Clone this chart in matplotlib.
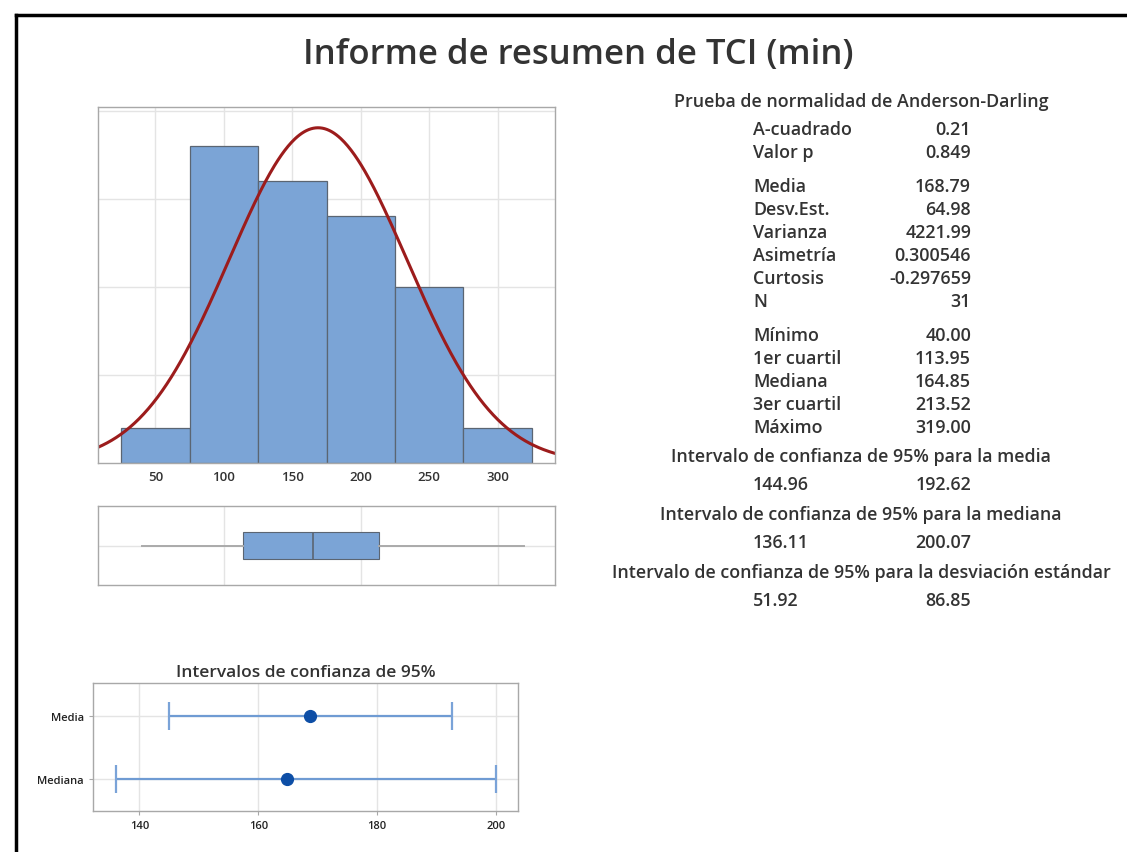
import numpy as np
import matplotlib.pyplot as plt
from matplotlib.lines import Line2D

plt.rcParams['font.family'] = ['Open Sans', 'DejaVu Sans']

# histogram of TCI (min)
bin_edges = [25, 75, 125, 175, 225, 275, 325]
bin_counts = [1, 9, 8, 7, 5, 1]

# summary stats
media = 168.79
desv = 64.98
n_obs = 31
minimo, q1, mediana, q3, maximo = 40.00, 113.95, 164.85, 213.52, 319.00

ad_labels = ['A-cuadrado', 'Valor p']
ad_values = ['0.21', '0.849']
mom_labels = ['Media', 'Desv.Est.', 'Varianza', 'Asimetría', 'Curtosis', 'N']
mom_values = ['168.79', '64.98', '4221.99', '0.300546', '-0.297659', '31']
q_labels = ['Mínimo', '1er cuartil', 'Mediana', '3er cuartil', 'Máximo']
q_values = ['40.00', '113.95', '164.85', '213.52', '319.00']

ci_titles = ['Intervalo de confianza de 95% para la media',
             'Intervalo de confianza de 95% para la mediana',
             'Intervalo de confianza de 95% para la desviación estándar']
ci_low = [144.96, 136.11, 51.92]
ci_high = [192.62, 200.07, 86.85]

ci_names = ['Media', 'Mediana']
ci_points = [media, mediana]

W, H = 1127, 853
BAR = '#7ba4d6'
EDGE = '#5b6572'
TXT = '#333333'
GRID = '#e4e4e4'
SPINE = '#a8a8a8'
SB = 'semibold'

fig = plt.figure(figsize=(W / 100, H / 100), dpi=100)


def fx(x):
    return x / W


def fy(y):
    return 1 - y / H


# frame lines (top and left only)
fig.add_artist(Line2D([fx(16), 1], [fy(15.5), fy(15.5)], color='black', lw=2.5))
fig.add_artist(Line2D([fx(15.5), fx(15.5)], [fy(15.5), 0], color='black', lw=2.5))

fig.text(fx(578), fy(55), 'Informe de resumen de TCI (min)', ha='center', va='center',
         fontsize=25, color=TXT, fontweight=SB)


def style(ax):
    for s in ax.spines.values():
        s.set_color(SPINE)
        s.set_linewidth(1)
    ax.set_axisbelow(True)


# histogram
ax = fig.add_axes([fx(98), fy(464), fx(555 - 98), (464 - 107.5) / H])
style(ax)
centers = [(a + b) / 2 for a, b in zip(bin_edges[:-1], bin_edges[1:])]
ax.bar(centers, bin_counts, width=50, color=BAR, edgecolor=EDGE, linewidth=0.9)
xs = np.linspace(8, 342, 400)
bw = bin_edges[1] - bin_edges[0]
ys = n_obs * bw / (desv * np.sqrt(2 * np.pi)) * np.exp(-0.5 * ((xs - media) / desv) ** 2)
ax.plot(xs, ys, color='#9c1c1c', lw=2.2)
ax.set_xlim(8, 342)
ax.set_ylim(0, 10.12)
ax.set_xticks([50, 100, 150, 200, 250, 300])
ax.set_yticks([2.5, 5, 7.5, 10])
ax.tick_params(axis='x', length=0, pad=5, labelsize=9.5, labelcolor=TXT)
for t in ax.get_xticklabels():
    t.set_fontweight(SB)
ax.tick_params(axis='y', length=0, labelleft=False)
ax.grid(True, color=GRID, lw=1)

# boxplot
axb = fig.add_axes([fx(98), fy(586), fx(555 - 98), (586 - 507) / H])
style(axb)
stats = [dict(med=mediana, q1=q1, q3=q3, whislo=minimo, whishi=maximo, fliers=[])]
axb.bxp(stats, positions=[1], widths=0.68, vert=False, showcaps=False,
        patch_artist=True,
        boxprops=dict(facecolor=BAR, edgecolor=EDGE, linewidth=0.8),
        medianprops=dict(color='#5b6572', linewidth=1.2),
        whiskerprops=dict(color='#aaaaaa', linewidth=1.4))
axb.set_xlim(8, 342)
axb.set_ylim(0, 2)
axb.set_xticks([100, 200, 300])
axb.set_yticks([1])
axb.tick_params(length=0, labelbottom=False, labelleft=False)
axb.grid(True, color=GRID, lw=1)

# confidence intervals plot
axc = fig.add_axes([fx(93), fy(812), fx(518 - 93), (812 - 684) / H])
style(axc)
ypos = [1, 0]
for y, lo, hi, p in zip(ypos, ci_low[:2], ci_high[:2], ci_points):
    axc.hlines(y, lo, hi, color='#6f9bd3', lw=1.6)
    axc.vlines([lo, hi], y - 0.22, y + 0.22, color='#7aa3d8', lw=1.6)
    axc.plot(p, y, 'o', color='#0d4ea6', markersize=8.5)
axc.set_xlim(132.2, 203.7)
axc.set_ylim(-0.5, 1.52)
axc.set_xticks([140, 160, 180, 200])
axc.set_yticks(ypos)
axc.set_yticklabels(ci_names)
axc.tick_params(labelsize=8, labelcolor='#222222', length=3, color=SPINE)
for t in axc.get_xticklabels() + axc.get_yticklabels():
    t.set_fontweight(SB)
axc.grid(True, color=GRID, lw=1)
axc.set_title('Intervalos de confianza de 95%', fontsize=12.5, color=TXT, pad=5,
              fontweight=SB)

# text panel
cx = fx(861)
lx = fx(753)
rx = fx(971)
fs = 12.9
fig.text(cx, fy(102), 'Prueba de normalidad de Anderson-Darling', ha='center', va='center',
         fontsize=fs, color=TXT, fontweight=SB)

y = 130
for group in [(ad_labels, ad_values), (mom_labels, mom_values), (q_labels, q_values)]:
    for lab, val in zip(*group):
        fig.text(lx, fy(y), lab, ha='left', va='center', fontsize=fs, color=TXT, fontweight=SB)
        fig.text(rx, fy(y), val, ha='right', va='center', fontsize=fs, color=TXT, fontweight=SB)
        y += 23
    y += 11

y = 457
for t, lo, hi in zip(ci_titles, ci_low, ci_high):
    fig.text(cx, fy(y), t, ha='center', va='center', fontsize=fs, color=TXT, fontweight=SB)
    fig.text(lx, fy(y + 28.5), f'{lo:.2f}', ha='left', va='center', fontsize=fs, color=TXT,
             fontweight=SB)
    fig.text(rx, fy(y + 28.5), f'{hi:.2f}', ha='right', va='center', fontsize=fs, color=TXT,
             fontweight=SB)
    y += 58

fig.savefig('out.png', dpi=100)
